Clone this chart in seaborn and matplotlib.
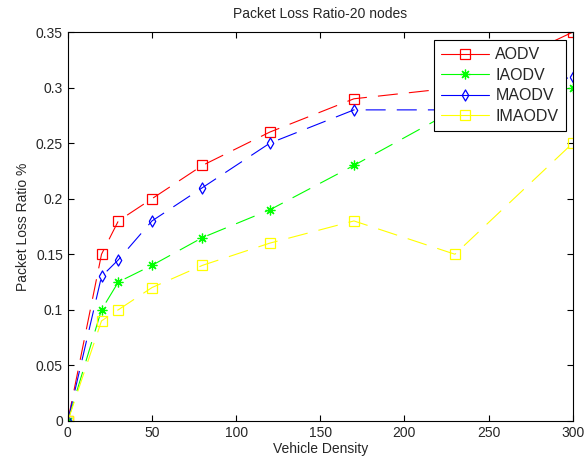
import pandas as pd
import matplotlib.pyplot as plt
import seaborn as sns
from matplotlib.lines import Line2D

# 데이터
density = [0, 20, 30, 50, 80, 120, 170, 230, 300]
aodv = [0, 0.15, 0.18, 0.20, 0.23, 0.26, 0.29, 0.30, 0.35]
iaodv = [0, 0.10, 0.125, 0.14, 0.165, 0.19, 0.23, 0.28, 0.30]
maodv = [0, 0.13, 0.145, 0.18, 0.21, 0.25, 0.28, 0.28, 0.31]
imaodv = [0, 0.09, 0.10, 0.12, 0.14, 0.16, 0.18, 0.15, 0.25]

protocols = ['AODV', 'IAODV', 'MAODV', 'IMAODV']
colors = ['#ff0000', '#00ff00', '#0000ff', '#ffff00']
diamond = ((-0.35, 0), (0, 0.6), (0.35, 0), (0, -0.6), (-0.35, 0))
markers = ['s', (8, 2, 0), diamond, 's']
msizes = [7, 7, 8, 7]

df = pd.DataFrame({'Vehicle Density': density * 4,
                   'ratio': aodv + iaodv + maodv + imaodv,
                   'protocol': [p for p in protocols for _ in density]})

sns.set_style('white')
plt.rcParams['font.family'] = ['Liberation Sans', 'DejaVu Sans']

fig = plt.figure(figsize=(5.85, 4.66), dpi=100)
ax = fig.add_axes([0.116, 0.097, 0.863, 0.834])

for p, c, m, ms in zip(protocols, colors, markers, msizes):
    sns.lineplot(data=df[df['protocol'] == p], x='Vehicle Density', y='ratio',
                 ax=ax, color=c, marker=m, markersize=ms,
                 markerfacecolor='none', markeredgecolor=c, markeredgewidth=0.9,
                 linewidth=0.8, legend=False)

# 점선 스타일
for line in ax.get_lines():
    line.set_linestyle((0, (18, 10)))

ax.set_xlim(0, 300)
ax.set_ylim(0, 0.35)
ax.set_xticks([0, 50, 100, 150, 200, 250, 300])
ax.set_yticks([0, 0.05, 0.1, 0.15, 0.2, 0.25, 0.3, 0.35])
ax.set_yticklabels(['0', '0.05', '0.1', '0.15', '0.2', '0.25', '0.3', '0.35'])
ax.tick_params(direction='in', length=4, labelsize=10, top=True, right=True,
               bottom=True, left=True, color='black')
for s in ax.spines.values():
    s.set_color('black')
    s.set_linewidth(0.8)

ax.set_title('Packet Loss Ratio-20 nodes', fontsize=10, pad=10)
ax.set_xlabel('Vehicle Density', fontsize=10, labelpad=2)
ax.set_ylabel('Packet Loss Ratio %', fontsize=10)

handles = [Line2D([], [], color=c, marker=m, markersize=ms, markerfacecolor='none',
                  markeredgecolor=c, markeredgewidth=0.9, linewidth=0.8)
           for c, m, ms in zip(colors, markers, msizes)]
leg = ax.legend(handles, protocols, loc='upper right', bbox_to_anchor=(0.986, 0.98),
                borderaxespad=0, fontsize=11.5, fancybox=False, framealpha=1,
                edgecolor='black', handlelength=3.0, borderpad=0.45,
                labelspacing=0.35, handletextpad=0.4)
leg.get_frame().set_linewidth(0.8)

plt.savefig('out.png')
